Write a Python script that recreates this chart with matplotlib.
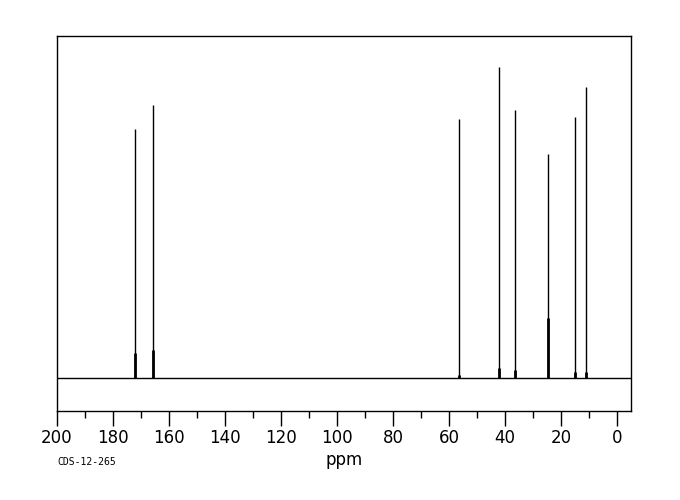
import matplotlib
matplotlib.use("Agg")
import matplotlib.pyplot as plt
from matplotlib.ticker import MultipleLocator

# peak positions (ppm) and heights (relative, baseline = 0)
shifts = [172.1, 165.7, 56.3, 42.0, 36.3, 24.5, 15.1, 11.1]
heights = [249, 273, 259, 311, 268, 224, 261, 291]
# wider foot of the peaks near the baseline
foot = [25, 28, 3, 10, 8, 60, 6, 6]

fig = plt.figure(figsize=(6.8, 5.0), dpi=100)
ax = fig.add_axes([57 / 680, 89 / 500, 574 / 680, 375 / 500])

ax.axhline(0, color="black", lw=1)
ax.vlines(shifts, 0, heights, color="black", lw=1)
ax.vlines(shifts, 0, foot, color="black", lw=2)

ax.set_xlim(200, -5)
ax.set_ylim(-33, 342)
ax.xaxis.set_major_locator(MultipleLocator(20))
ax.xaxis.set_minor_locator(MultipleLocator(10))
ax.tick_params(axis="x", which="major", length=11, width=1, labelsize=12, pad=2)
ax.tick_params(axis="x", which="minor", length=5, width=1)
ax.set_yticks([])
for s in ax.spines.values():
    s.set_linewidth(1)

ax.set_xlabel("ppm", fontsize=12, labelpad=3)
fig.text(57 / 680, 1 - 462 / 500, "CDS-12-265", family="DejaVu Sans Mono",
         fontsize=7, va="center", ha="left")

fig.savefig("out.png", dpi=100)
